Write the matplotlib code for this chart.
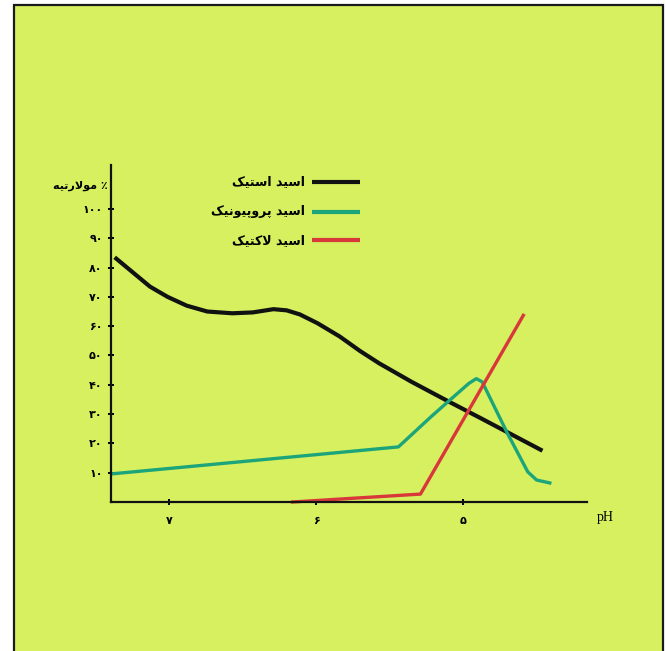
import matplotlib
matplotlib.use("Agg")
import matplotlib.pyplot as plt
from matplotlib.patches import Rectangle

# داده ها (خوانده شده از تصویر)
ph_acetic = [7.37, 7.25, 7.13, 7.01, 6.88, 6.74, 6.57, 6.43, 6.29, 6.20, 6.11, 5.99, 5.84, 5.70, 5.57, 5.35, 5.11, 4.88, 4.46]
val_acetic = [83.5, 78.5, 73.5, 70.0, 67.0, 65.0, 64.4, 64.7, 65.8, 65.4, 64.0, 61.0, 56.5, 51.5, 47.3, 41.0, 34.6, 28.6, 17.5]

ph_propionic = [7.39, 5.44, 5.22, 5.11, 4.96, 4.91, 4.87, 4.70, 4.56, 4.50, 4.41]
val_propionic = [9.6, 18.8, 29.0, 33.9, 40.5, 42.1, 41.0, 23.6, 10.3, 7.5, 6.5]

ph_lactic = [6.16, 5.29, 4.59]
val_lactic = [0.0, 2.7, 63.7]

names = ["اسید استیک", "اسید پروپیونیک", "اسید لاکتیک"]
colors = ["#111111", "#1ca57a", "#d8383a"]
y_ticks = [10, 20, 30, 40, 50, 60, 70, 80, 90, 100]
x_ticks = [7, 6, 5]

# شکل دهی حروف فارسی (matplotlib خودش این کار را نمی کند)
FORMS = {
    'ا': ('\uFE8D', '\uFE8E', None, None),
    'د': ('\uFEA9', '\uFEAA', None, None),
    'ر': ('\uFEAD', '\uFEAE', None, None),
    'و': ('\uFEED', '\uFEEE', None, None),
    'لا': ('\uFEFB', '\uFEFC', None, None),
    'س': ('\uFEB1', '\uFEB2', '\uFEB3', '\uFEB4'),
    'ت': ('\uFE95', '\uFE96', '\uFE97', '\uFE98'),
    'ن': ('\uFEE5', '\uFEE6', '\uFEE7', '\uFEE8'),
    'ل': ('\uFEDD', '\uFEDE', '\uFEDF', '\uFEE0'),
    'م': ('\uFEE1', '\uFEE2', '\uFEE3', '\uFEE4'),
    'ه': ('\uFEE9', '\uFEEA', '\uFEEB', '\uFEEC'),
    'ی': ('\uFBFC', '\uFBFD', '\uFBFE', '\uFBFF'),
    'ک': ('\uFB8E', '\uFB8F', '\uFB90', '\uFB91'),
    'پ': ('\uFB56', '\uFB57', '\uFB58', '\uFB59'),
}


def shape_word(word):
    toks = []
    i = 0
    while i < len(word):
        if word[i] == 'ل' and i + 1 < len(word) and word[i + 1] == 'ا':
            toks.append('لا')
            i += 2
        else:
            toks.append(word[i])
            i += 1
    out = []
    for k, t in enumerate(toks):
        if t not in FORMS:
            out.append(t)
            continue
        f = FORMS[t]
        prev = k > 0 and toks[k - 1] in FORMS and FORMS[toks[k - 1]][2] is not None
        nxt = f[2] is not None and k + 1 < len(toks) and toks[k + 1] in FORMS
        if prev and nxt:
            out.append(f[3])
        elif prev:
            out.append(f[1])
        elif nxt:
            out.append(f[2])
        else:
            out.append(f[0])
    return ''.join(reversed(out))


def fa(text):
    return ' '.join(shape_word(w) for w in reversed(text.split(' ')))


def fa_digits(n):
    return ''.join('۰۱۲۳۴۵۶۷۸۹'[int(c)] for c in str(n))


bg = "#d6f060"
fig = plt.figure(figsize=(6.66, 6.51), dpi=100)
fig.patch.set_facecolor("white")
fig.patches.append(Rectangle((14 / 666, -0.05), 649 / 666, 1.05 - 5 / 651,
                             transform=fig.transFigure, facecolor=bg,
                             edgecolor="#1a1a1a", linewidth=1.6, zorder=-10))

ax = fig.add_axes([111 / 666, 1 - 502 / 651, 476 / 666, 337 / 651])
ax.set_facecolor("none")
ax.set_zorder(5)

ax.plot(ph_acetic, val_acetic, color=colors[0], lw=3.0, solid_capstyle="butt", clip_on=False)
ax.plot(ph_propionic, val_propionic, color=colors[1], lw=2.4, clip_on=False)
ax.plot(ph_lactic, val_lactic, color=colors[2], lw=2.4, clip_on=False)

ax.set_xlim(7.395, 4.157)
ax.set_ylim(0, 115)

for s in ["top", "right"]:
    ax.spines[s].set_visible(False)
for s in ["left", "bottom"]:
    ax.spines[s].set_linewidth(1.6)
    ax.spines[s].set_color("#111111")

ax.set_yticks(y_ticks)
ax.set_yticklabels([fa_digits(v) for v in y_ticks], fontfamily="DejaVu Sans", fontweight="bold", fontsize=8)
ax.set_xticks(x_ticks)
ax.set_xticklabels([fa_digits(v) for v in x_ticks], fontfamily="DejaVu Sans", fontweight="bold", fontsize=8)
ax.tick_params(axis="y", direction="inout", length=4, width=1.4, pad=4)
ax.tick_params(axis="x", direction="inout", length=4, width=1.4, pad=8)

ax.text(-0.006, 0.938, fa("مولارتیه") + " ٪", transform=ax.transAxes, ha="right", va="center",
        fontfamily="DejaVu Sans", fontweight="bold", fontsize=8)
ax.text(1.038, -0.047, "pH", transform=ax.transAxes, ha="center", va="center",
        fontfamily="Liberation Serif", fontsize=10)

# راهنما
leg_y = [0.950, 0.861, 0.777]
for name, c, yy in zip(names, colors, leg_y):
    ax.plot([0.422, 0.523], [yy, yy], transform=ax.transAxes, color=c, lw=3.0, clip_on=False,
            solid_capstyle="butt")
    ax.text(0.408, yy, fa(name), transform=ax.transAxes, ha="right", va="center",
            fontfamily="DejaVu Sans", fontweight="bold", fontsize=9)

fig.savefig("out.png", dpi=100, facecolor=fig.get_facecolor())
